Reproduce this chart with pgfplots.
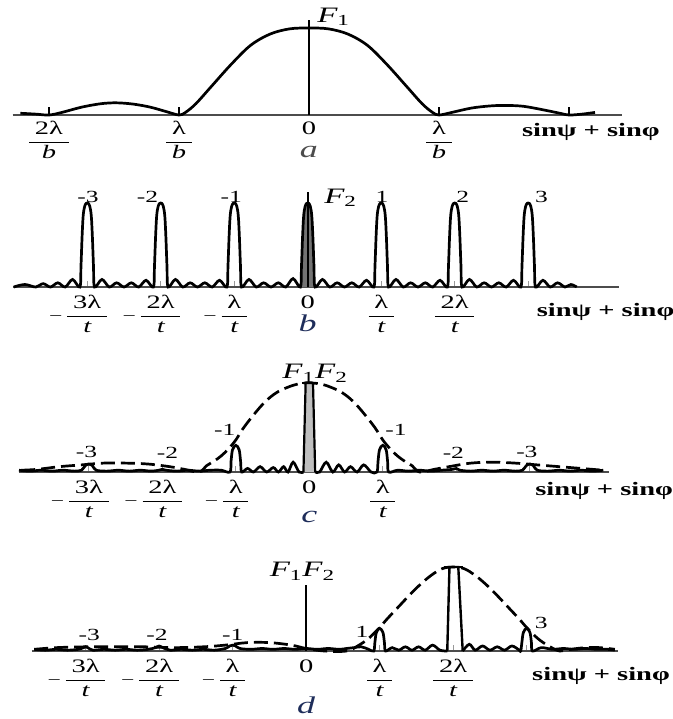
\documentclass[border=0pt]{standalone}
\usepackage{amsmath}
\usepackage{fontspec}
\setmainfont{Liberation Serif}[FakeStretch=1.5]
\usepackage{pgfplots}
\pgfplotsset{compat=1.18}

\definecolor{lettercol}{RGB}{30,45,90}

% fraction tick labels: lambda over b or t, with an optional leading minus
\newcommand{\fr}[2]{\dfrac{\hspace{0.3em}\text{#1}\hspace{0.3em}}{\text{\itshape #2}}}
\newcommand{\mfr}[2]{\llap{$-$\kern1pt}\fr{#1}{#2}}

\pgfplotsset{
  panel/.style={
    axis x line=bottom, axis y line=none, ytick=\empty,
    axis line style={-, draw=black!70, line width=0.9pt},
    clip=false, anchor=south west, ymin=0,
    tick align=inside, major tick length=3pt,
    tick style={draw=black!40, line width=0.6pt},
    xticklabel style={font=\fontsize{9.5}{11}\selectfont, anchor=north, inner sep=0pt, yshift=-4pt},
  },
  curve/.style={black, line width=1.35pt, smooth, tension=0.55},
  env/.style={black, line width=1.35pt, smooth, tension=0.6, dash pattern=on 7pt off 3pt},
}
\tikzset{
  numlab/.style={font=\fontsize{8.5}{10}\selectfont},
  flab/.style={font=\fontsize{11}{13}\selectfont},
  sinlab/.style={anchor=west, font=\bfseries\fontsize{9.5}{11}\selectfont},
  letlab/.style={font=\itshape\fontsize{12}{14}\selectfont},
}

\begin{document}
\begin{tikzpicture}
\useasboundingbox (0,0) rectangle (336.5pt,-359.5pt);

% ---------------- (a) single-slit factor F1 ----------------
\begin{axis}[panel, at={(6.3pt,-57.5pt)}, x=65pt, y=43.5pt,
  xmin=-2.28, xmax=2.41, ymax=1.2,
  xtick={-2,-1,0,1,2},
  xticklabels={$\fr{2λ}{b}$,$\fr{λ}{b}$,0,$\fr{λ}{b}$,{}},
  tick style={draw=black, line width=0.7pt}, major tick length=4pt,
  xticklabel style={yshift=1pt}]
\addplot[curve] coordinates {
 (-2.22,0.02) (-2.10,0.01) (-2.00,0) (-1.90,0.03) (-1.75,0.09) (-1.60,0.13)
 (-1.48,0.14) (-1.35,0.125) (-1.22,0.09) (-1.10,0.04) (-1.00,0)
 (-0.95,0.03) (-0.87,0.13) (-0.75,0.33) (-0.60,0.58) (-0.45,0.80) (-0.30,0.93)
 (-0.15,0.99) (0,1) (0.15,0.99) (0.30,0.93) (0.45,0.80) (0.60,0.58) (0.75,0.33)
 (0.87,0.13) (0.95,0.03) (1.00,0) (1.10,0.03) (1.25,0.08) (1.40,0.105)
 (1.52,0.11) (1.65,0.10) (1.80,0.06) (1.93,0.02) (2.00,0) (2.10,0.01) (2.20,0.03)};
\addplot[black, line width=1pt] coordinates {(0,0) (0,1.09)};
\node[flab] at (axis cs:0.19,1.13) {$\textit{F}_{\text{1}}$};
\node[sinlab] at (axis cs:1.585,-0.19) {sinψ + sinφ};
\node[letlab, text=black!70] at (axis cs:0,-0.43) {a};
\end{axis}

% ---------------- (b) grating factor F2 ----------------
\begin{axis}[panel, at={(6.5pt,-143.5pt)}, x=36.75pt, y=42pt,
  xmin=-4.01, xmax=4.24, ymax=1.2,
  xtick={-3,...,3},
  xticklabels={$\mfr{3λ}{t}$,$\mfr{2λ}{t}$,$\mfr{λ}{t}$,0,$\fr{λ}{t}$,$\fr{2λ}{t}$,{}}]
\addplot[fill=black!55, draw=none] coordinates {
 (-0.1,0) (-0.085,0.25) (-0.07,0.6) (-0.055,0.85) (-0.035,0.96) (0,1)
 (0.035,0.96) (0.055,0.85) (0.07,0.6) (0.085,0.25) (0.1,0)};
\addplot[curve] coordinates {
 (-4.00,0) (-3.85,0.03) (-3.70,0) (-3.60,0.04) (-3.50,0) (-3.40,0.05) (-3.30,0) (-3.20,0.09)
 (-3.10,0) (-3.085,0.25) (-3.07,0.6) (-3.055,0.85) (-3.035,0.96) (-3.015,0.995) (-3,1)
 (-2.985,0.995) (-2.965,0.96) (-2.945,0.85) (-2.93,0.6) (-2.915,0.25) (-2.90,0)
 (-2.80,0.09) (-2.70,0) (-2.60,0.05) (-2.50,0) (-2.40,0.05) (-2.30,0) (-2.20,0.08)
 (-2.10,0) (-2.085,0.25) (-2.07,0.6) (-2.055,0.85) (-2.035,0.96) (-2.015,0.995) (-2,1)
 (-1.985,0.995) (-1.965,0.96) (-1.945,0.85) (-1.93,0.6) (-1.915,0.25) (-1.90,0)
 (-1.80,0.09) (-1.70,0) (-1.60,0.05) (-1.50,0) (-1.40,0.05) (-1.30,0) (-1.20,0.08)
 (-1.10,0) (-1.085,0.25) (-1.07,0.6) (-1.055,0.85) (-1.035,0.96) (-1.015,0.995) (-1,1)
 (-0.985,0.995) (-0.965,0.96) (-0.945,0.85) (-0.93,0.6) (-0.915,0.25) (-0.90,0)
 (-0.80,0.09) (-0.70,0) (-0.60,0.05) (-0.50,0) (-0.40,0.05) (-0.30,0) (-0.20,0.10)
 (-0.10,0) (-0.085,0.25) (-0.07,0.6) (-0.055,0.85) (-0.035,0.96) (-0.015,0.995) (0,1)
 (0.015,0.995) (0.035,0.96) (0.055,0.85) (0.07,0.6) (0.085,0.25) (0.10,0)
 (0.20,0.09) (0.30,0) (0.40,0.05) (0.50,0) (0.60,0.05) (0.70,0) (0.80,0.08)
 (0.90,0) (0.915,0.25) (0.93,0.6) (0.945,0.85) (0.965,0.96) (0.985,0.995) (1,1)
 (1.015,0.995) (1.035,0.96) (1.055,0.85) (1.07,0.6) (1.085,0.25) (1.10,0)
 (1.20,0.09) (1.30,0) (1.40,0.05) (1.50,0) (1.60,0.05) (1.70,0) (1.80,0.08)
 (1.90,0) (1.915,0.25) (1.93,0.6) (1.945,0.85) (1.965,0.96) (1.985,0.995) (2,1)
 (2.015,0.995) (2.035,0.96) (2.055,0.85) (2.07,0.6) (2.085,0.25) (2.10,0)
 (2.20,0.09) (2.30,0) (2.40,0.05) (2.50,0) (2.60,0.05) (2.70,0) (2.80,0.08)
 (2.90,0) (2.915,0.25) (2.93,0.6) (2.945,0.85) (2.965,0.96) (2.985,0.995) (3,1)
 (3.015,0.995) (3.035,0.96) (3.055,0.85) (3.07,0.6) (3.085,0.25) (3.10,0)
 (3.20,0.08) (3.30,0) (3.40,0.05) (3.50,0) (3.58,0.03) (3.66,0)};
\addplot[black, line width=1pt] coordinates {(0,0) (0,1.13)};
\node[numlab] at (axis cs:-2.99,1.07) {-3};
\node[numlab] at (axis cs:-2.18,1.07) {-2};
\node[numlab] at (axis cs:-1.04,1.07) {-1};
\node[numlab] at (axis cs:1.01,1.07) {1};
\node[numlab] at (axis cs:2.11,1.07) {2};
\node[numlab] at (axis cs:3.18,1.07) {3};
\node[flab, anchor=west, inner sep=0pt] at (axis cs:0.22,1.06) {$\textit{F}_{\text{2}}$};
\node[sinlab] at (axis cs:3.02,-0.30) {sinψ + sinφ};
\node[letlab, text=lettercol] at (axis cs:0,-0.43) {b};
\end{axis}

% ---------------- (c) product F1 F2, zero order on axis ----------------
\begin{axis}[panel, at={(9.5pt,-236pt)}, x=36.75pt, y=44.5pt,
  xmin=-3.95, xmax=4.08, ymax=1.2,
  xtick={-3,...,3},
  xticklabels={$\mfr{3λ}{t}$,$\mfr{2λ}{t}$,$\mfr{λ}{t}$,0,$\fr{λ}{t}$,{},{}}]
% envelope F1
\addplot[env] coordinates {
 (-3.92,0.02) (-3.7,0.03) (-3.4,0.06) (-3.1,0.08) (-2.8,0.10) (-2.5,0.10) (-2.2,0.09)
 (-1.9,0.06) (-1.7,0.03) (-1.5,0)
 (-1.4,0.07) (-1.3,0.12) (-1.2,0.18) (-1.1,0.26) (-1.0,0.36) (-0.9,0.49) (-0.75,0.65)
 (-0.6,0.79) (-0.45,0.89) (-0.3,0.95) (-0.15,0.99) (0,1)
 (0.15,0.99) (0.3,0.95) (0.45,0.89) (0.6,0.79) (0.75,0.65) (0.9,0.49) (1.0,0.36)
 (1.1,0.26) (1.2,0.18) (1.3,0.12) (1.4,0.07) (1.5,0)
 (1.7,0.03) (1.9,0.06) (2.2,0.10) (2.5,0.11) (2.8,0.10) (3.1,0.08) (3.4,0.06)
 (3.7,0.04) (4.0,0.02)};
% product curve, left part
\addplot[curve] coordinates {
 (-3.95,0.02) (-3.8,0.01) (-3.65,0.02) (-3.5,0.01) (-3.35,0.02) (-3.2,0.01) (-3.1,0.02)
 (-3.05,0.07) (-3.0,0.09) (-2.95,0.07) (-2.9,0.02) (-2.75,0.01) (-2.6,0.02) (-2.45,0.01)
 (-2.3,0.02) (-2.15,0.01) (-2.05,0.02) (-2.0,0.03) (-1.95,0.02) (-1.8,0.01) (-1.65,0.02)
 (-1.5,0.01) (-1.35,0.02) (-1.2,0.02) (-1.08,0)
 (-1.065,0.12) (-1.045,0.25) (-1.0,0.3) (-0.955,0.25) (-0.935,0.12) (-0.92,0)
 (-0.84,0.04) (-0.76,0) (-0.67,0.06) (-0.58,0) (-0.49,0.05) (-0.42,0) (-0.35,0.06)
 (-0.29,0) (-0.22,0.11) (-0.14,0) (-0.08,0)};
% zero order
\addplot[black, line width=1.1pt, fill=black!25] coordinates {
 (-0.08,0) (-0.05,1) (0.05,1) (0.08,0)};
\addplot[black, line width=1.2pt] coordinates {(-0.10,1) (0.12,1)};
% product curve, right part
\addplot[curve] coordinates {
 (0.08,0) (0.14,0) (0.23,0.11) (0.32,0) (0.40,0.08) (0.48,0) (0.56,0.06) (0.65,0)
 (0.74,0.08) (0.84,0) (0.92,0)
 (0.935,0.12) (0.955,0.25) (1.0,0.3) (1.045,0.25) (1.065,0.12) (1.08,0)
 (1.2,0.02) (1.35,0.01) (1.5,0.02) (1.65,0.01) (1.8,0.02) (1.95,0.03) (2.0,0.04)
 (2.05,0.02) (2.2,0.01) (2.35,0.02) (2.5,0.01) (2.65,0.02) (2.8,0.01) (2.9,0.02)
 (2.95,0.07) (3.0,0.09) (3.05,0.07) (3.1,0.02) (3.25,0.01) (3.4,0.02) (3.55,0.01)
 (3.7,0.02) (3.85,0.01) (4.0,0.02)};
\node[flab] at (axis cs:0.08,1.11) {$\textit{F}_{\text{1}}\textit{F}_{\text{2}}$};
\node[numlab] at (axis cs:-1.15,0.47) {-1};
\node[numlab] at (axis cs:1.18,0.47) {-1};
\node[numlab] at (axis cs:-3.03,0.22) {-3};
\node[numlab] at (axis cs:-1.93,0.22) {-2};
\node[numlab] at (axis cs:1.96,0.22) {-2};
\node[numlab] at (axis cs:2.96,0.22) {-3};
\node[sinlab] at (axis cs:2.98,-0.21) {sinψ + sinφ};
\node[letlab, text=lettercol] at (axis cs:0,-0.50) {c};
\end{axis}

% ---------------- (d) product F1 F2, envelope moved to second order ----------------
\begin{axis}[panel, at={(16pt,-325.5pt)}, x=36.75pt, y=42pt,
  xmin=-3.73, xmax=4.24, ymax=1.2,
  xtick={-3,...,3},
  xticklabels={$\mfr{3λ}{t}$,$\mfr{2λ}{t}$,$\mfr{λ}{t}$,0,$\fr{λ}{t}$,$\fr{2λ}{t}$,{}}]
% envelope F1
\addplot[env] coordinates {
 (-3.7,0.02) (-3.4,0.04) (-3.0,0.05) (-2.6,0.05) (-2.2,0.05) (-1.8,0.04) (-1.4,0.05)
 (-1.1,0.07) (-0.8,0.10) (-0.5,0.10) (-0.2,0.07) (0.0,0.03) (0.25,0) (0.55,0)
 (0.7,0.06) (0.85,0.15) (1.0,0.28) (1.1,0.38) (1.25,0.52) (1.4,0.66) (1.55,0.79)
 (1.7,0.90) (1.85,0.98) (2.0,1.0) (2.15,0.98) (2.3,0.90) (2.45,0.79) (2.6,0.66)
 (2.75,0.52) (2.9,0.38) (3.0,0.28) (3.15,0.15) (3.3,0.06) (3.45,0)
 (3.6,0.02) (3.8,0.04) (4.0,0.04) (4.2,0.02)};
% product curve, left part
\addplot[curve] coordinates {
 (-3.7,0.02) (-3.55,0.01) (-3.4,0.02) (-3.25,0.01) (-3.1,0.02) (-3.03,0.04) (-3.0,0.05)
 (-2.97,0.04) (-2.9,0.01) (-2.75,0.02) (-2.6,0.01) (-2.45,0.02) (-2.3,0.01) (-2.15,0.02)
 (-2.05,0.04) (-2.0,0.06) (-1.95,0.04) (-1.85,0.01) (-1.7,0.02) (-1.55,0.01) (-1.4,0.02)
 (-1.25,0.01) (-1.1,0.03) (-1.04,0.06) (-1.0,0.07) (-0.96,0.06) (-0.9,0.03) (-0.75,0.02)
 (-0.6,0.03) (-0.45,0.02) (-0.3,0.03) (-0.15,0.02) (0,0.03) (0.15,0.02) (0.3,0.03)
 (0.45,0.02) (0.55,0.03) (0.65,0.04) (0.75,0.05) (0.85,0.02) (0.92,0)
 (0.935,0.1) (0.955,0.22) (1.0,0.27) (1.045,0.22) (1.065,0.1) (1.08,0)
 (1.17,0.04) (1.26,0.01) (1.35,0.05) (1.44,0.01) (1.53,0.05) (1.62,0.01) (1.72,0.07)
 (1.82,0.01) (1.92,0)};
% second order
\addplot[black, line width=1.2pt] coordinates {(1.92,0) (1.95,1) (2.07,1) (2.13,0)};
\addplot[black, line width=1.2pt] coordinates {(1.87,1) (2.13,1)};
% product curve, right part
\addplot[curve] coordinates {
 (2.13,0) (2.22,0.08) (2.3,0.01) (2.4,0.06) (2.5,0.01) (2.6,0.05) (2.7,0.01) (2.8,0.06)
 (2.9,0.01) (2.92,0) (2.935,0.1) (2.955,0.22) (3.0,0.27) (3.045,0.22) (3.065,0.1)
 (3.08,0) (3.2,0.04) (3.35,0.02) (3.5,0.03) (3.65,0.02) (3.8,0.03) (3.95,0.02)
 (4.1,0.02) (4.2,0.01)};
\addplot[black, line width=0.9pt] coordinates {(0,0) (0,0.79)};
\node[flab] at (axis cs:-0.05,0.95) {$\textit{F}_{\text{1}}\textit{F}_{\text{2}}$};
\node[numlab] at (axis cs:0.76,0.23) {1};
\node[numlab] at (axis cs:3.2,0.33) {3};
\node[numlab] at (axis cs:-2.95,0.19) {-3};
\node[numlab] at (axis cs:-2.03,0.19) {-2};
\node[numlab] at (axis cs:-1.0,0.19) {-1};
\node[sinlab] at (axis cs:2.98,-0.30) {sinψ + sinφ};
\node[letlab, text=lettercol] at (axis cs:0,-0.65) {d};
\end{axis}
\end{tikzpicture}
\end{document}
